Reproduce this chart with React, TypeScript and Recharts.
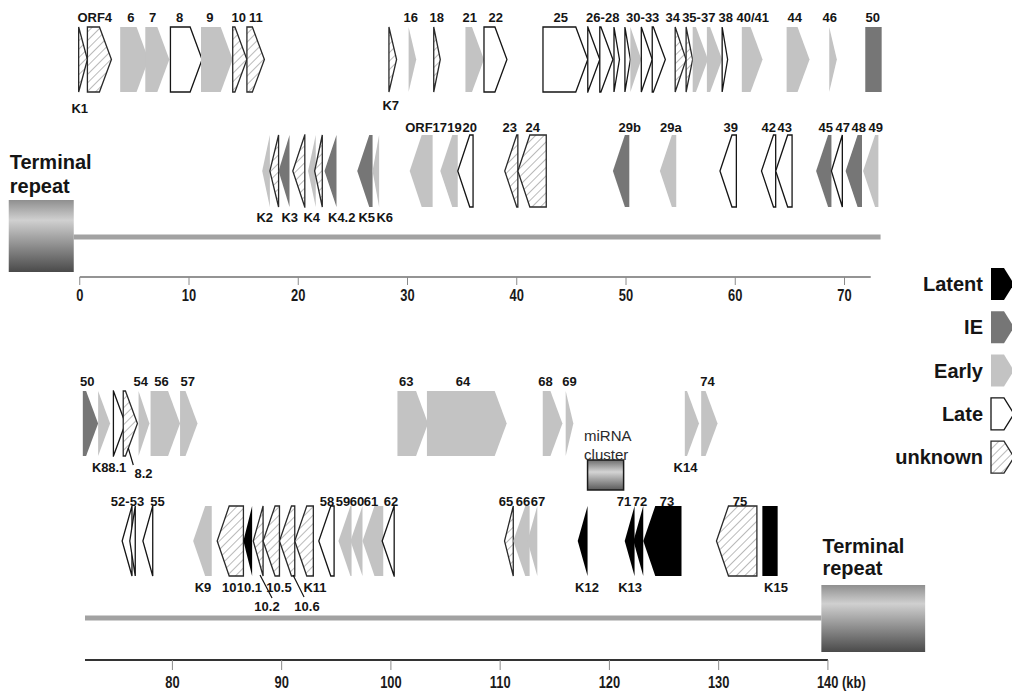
import React from 'react';
import { ComposedChart, XAxis, YAxis, ReferenceArea, ReferenceLine, Scatter, Legend } from 'recharts';

type Cls = 'latent' | 'ie' | 'early' | 'late' | 'unknown';
type Gene = { name: string; start: number; end: number; cls: Cls; dir: 1 | -1 | 0 };
type Lbl = { text: string; kb: number };

// ---------- DATA (kb) ----------
const topForward: Gene[] = [
  { name: 'K1', start: -0.1, end: 0.7, cls: 'unknown', dir: 1 },
  { name: 'ORF4', start: 0.7, end: 2.9, cls: 'unknown', dir: 1 },
  { name: '6', start: 3.7, end: 6.3, cls: 'early', dir: 1 },
  { name: '7', start: 6.0, end: 8.2, cls: 'early', dir: 1 },
  { name: '8', start: 8.3, end: 11.2, cls: 'late', dir: 1 },
  { name: '9', start: 11.1, end: 14.0, cls: 'early', dir: 1 },
  { name: '10', start: 14.0, end: 15.3, cls: 'unknown', dir: 1 },
  { name: '11', start: 15.3, end: 16.9, cls: 'unknown', dir: 1 },
  { name: 'K7', start: 28.3, end: 29.0, cls: 'unknown', dir: 1 },
  { name: '16', start: 30.1, end: 30.8, cls: 'early', dir: 1 },
  { name: '18', start: 32.4, end: 33.0, cls: 'unknown', dir: 1 },
  { name: '21', start: 35.3, end: 37.0, cls: 'early', dir: 1 },
  { name: '22', start: 37.0, end: 39.1, cls: 'late', dir: 1 },
  { name: '25', start: 42.4, end: 46.5, cls: 'late', dir: 1 },
  { name: '26', start: 46.5, end: 47.6, cls: 'late', dir: 1 },
  { name: '27', start: 47.6, end: 48.8, cls: 'late', dir: 1 },
  { name: '28', start: 48.9, end: 49.4, cls: 'late', dir: 1 },
  { name: '30', start: 49.9, end: 50.4, cls: 'late', dir: 1 },
  { name: '31', start: 50.4, end: 51.4, cls: 'early', dir: 1 },
  { name: '32', start: 51.4, end: 52.4, cls: 'late', dir: 1 },
  { name: '33', start: 52.4, end: 53.6, cls: 'late', dir: 1 },
  { name: '34', start: 54.5, end: 55.5, cls: 'unknown', dir: 1 },
  { name: '35', start: 55.5, end: 56.1, cls: 'unknown', dir: 1 },
  { name: '36', start: 56.1, end: 57.5, cls: 'early', dir: 1 },
  { name: '37', start: 57.4, end: 58.8, cls: 'early', dir: 1 },
  { name: '38', start: 58.8, end: 59.3, cls: 'late', dir: 1 },
  { name: '40/41', start: 60.6, end: 62.5, cls: 'early', dir: 1 },
  { name: '44', start: 64.7, end: 66.8, cls: 'early', dir: 1 },
  { name: '46', start: 68.6, end: 69.3, cls: 'early', dir: 1 },
  { name: '50', start: 71.9, end: 73.4, cls: 'ie', dir: 0 },
];

const topReverse: Gene[] = [
  { name: 'K2a', start: 16.7, end: 17.4, cls: 'early', dir: -1 },
  { name: 'K2', start: 17.4, end: 18.2, cls: 'unknown', dir: -1 },
  { name: 'K2b', start: 18.2, end: 19.2, cls: 'ie', dir: -1 },
  { name: 'K3', start: 19.5, end: 20.6, cls: 'unknown', dir: -1 },
  { name: 'K3a', start: 20.9, end: 21.6, cls: 'early', dir: -1 },
  { name: 'K4', start: 21.5, end: 22.2, cls: 'unknown', dir: -1 },
  { name: 'K4.2', start: 22.4, end: 23.5, cls: 'ie', dir: -1 },
  { name: 'K5', start: 25.4, end: 26.8, cls: 'ie', dir: -1 },
  { name: 'K6', start: 26.8, end: 27.4, cls: 'early', dir: -1 },
  { name: 'ORF17', start: 30.2, end: 32.3, cls: 'early', dir: -1 },
  { name: '19', start: 33.0, end: 34.6, cls: 'early', dir: -1 },
  { name: '20', start: 34.6, end: 36.0, cls: 'late', dir: -1 },
  { name: '23', start: 38.9, end: 40.1, cls: 'unknown', dir: -1 },
  { name: '24', start: 40.1, end: 42.7, cls: 'unknown', dir: -1 },
  { name: '29b', start: 48.8, end: 50.3, cls: 'ie', dir: -1 },
  { name: '29a', start: 53.1, end: 54.6, cls: 'early', dir: -1 },
  { name: '39', start: 58.6, end: 60.1, cls: 'late', dir: -1 },
  { name: '42', start: 62.4, end: 63.7, cls: 'late', dir: -1 },
  { name: '43', start: 63.7, end: 65.2, cls: 'late', dir: -1 },
  { name: '45', start: 67.4, end: 68.8, cls: 'ie', dir: -1 },
  { name: '47', start: 68.8, end: 69.8, cls: 'late', dir: -1 },
  { name: '48', start: 70.1, end: 71.6, cls: 'ie', dir: -1 },
  { name: '49', start: 71.7, end: 73.1, cls: 'early', dir: -1 },
];

const bottomForward: Gene[] = [
  { name: '50', start: 71.8, end: 73.2, cls: 'ie', dir: 1 },
  { name: '51', start: 73.2, end: 74.3, cls: 'early', dir: 1 },
  { name: 'K8', start: 74.6, end: 75.7, cls: 'late', dir: 1 },
  { name: '8.1', start: 75.5, end: 76.8, cls: 'unknown', dir: 1 },
  { name: '54', start: 76.9, end: 77.9, cls: 'early', dir: 1 },
  { name: '56', start: 78.0, end: 80.7, cls: 'early', dir: 1 },
  { name: '57', start: 80.7, end: 82.3, cls: 'early', dir: 1 },
  { name: '63', start: 100.6, end: 103.4, cls: 'early', dir: 1 },
  { name: '64', start: 103.3, end: 110.6, cls: 'early', dir: 1 },
  { name: '68', start: 113.9, end: 115.7, cls: 'early', dir: 1 },
  { name: '69', start: 116.0, end: 116.7, cls: 'early', dir: 1 },
  { name: 'K14', start: 126.9, end: 128.2, cls: 'early', dir: 1 },
  { name: '74', start: 128.4, end: 129.9, cls: 'early', dir: 1 },
];

const bottomReverse: Gene[] = [
  { name: '52', start: 75.4, end: 76.3, cls: 'late', dir: -1 },
  { name: '53', start: 76.1, end: 76.6, cls: 'late', dir: -1 },
  { name: '55', start: 77.3, end: 78.2, cls: 'late', dir: -1 },
  { name: 'K9', start: 81.9, end: 83.6, cls: 'early', dir: -1 },
  { name: '10', start: 84.1, end: 86.5, cls: 'unknown', dir: -1 },
  { name: '10.1', start: 86.5, end: 87.3, cls: 'latent', dir: -1 },
  { name: '10.2', start: 87.4, end: 88.3, cls: 'unknown', dir: -1 },
  { name: '10.5', start: 88.3, end: 89.8, cls: 'unknown', dir: -1 },
  { name: '10.6', start: 89.8, end: 91.2, cls: 'unknown', dir: -1 },
  { name: 'K11', start: 91.2, end: 92.9, cls: 'unknown', dir: -1 },
  { name: '58', start: 93.4, end: 94.8, cls: 'late', dir: -1 },
  { name: '59', start: 95.2, end: 96.4, cls: 'early', dir: -1 },
  { name: '60', start: 96.3, end: 97.4, cls: 'early', dir: -1 },
  { name: '61', start: 97.4, end: 99.3, cls: 'early', dir: -1 },
  { name: '62', start: 99.2, end: 100.3, cls: 'late', dir: -1 },
  { name: '65', start: 110.4, end: 111.2, cls: 'unknown', dir: -1 },
  { name: '66', start: 111.2, end: 112.7, cls: 'early', dir: -1 },
  { name: '67', start: 112.5, end: 113.4, cls: 'early', dir: -1 },
  { name: 'K12', start: 117.1, end: 118.0, cls: 'latent', dir: -1 },
  { name: '71', start: 121.4, end: 122.3, cls: 'latent', dir: -1 },
  { name: '72', start: 122.2, end: 123.1, cls: 'latent', dir: -1 },
  { name: '73', start: 123.1, end: 126.6, cls: 'latent', dir: -1 },
  { name: '75', start: 129.8, end: 133.5, cls: 'unknown', dir: -1 },
  { name: 'K15', start: 134.0, end: 135.4, cls: 'latent', dir: 0 },
];

const topRow1Labels: Lbl[] = [
  { text: 'ORF4', kb: 1.37 }, { text: '6', kb: 4.67 }, { text: '7', kb: 6.68 }, { text: '8', kb: 9.15 },
  { text: '9', kb: 11.9 }, { text: '10', kb: 14.55 }, { text: '11', kb: 16.11 }, { text: '16', kb: 30.3 },
  { text: '18', kb: 32.68 }, { text: '21', kb: 35.7 }, { text: '22', kb: 38.08 }, { text: '25', kb: 44.03 },
  { text: '26-28', kb: 47.87 }, { text: '30-33', kb: 51.53 }, { text: '34', kb: 54.28 }, { text: '35-37', kb: 56.66 },
  { text: '38', kb: 59.13 }, { text: '40/41', kb: 61.6 }, { text: '44', kb: 65.45 }, { text: '46', kb: 68.65 },
  { text: '50', kb: 72.59 },
];
const topRow1Below: Lbl[] = [{ text: 'K1', kb: 0.0 }];
const topRow1BelowK7: Lbl[] = [{ text: 'K7', kb: 28.47 }];
const topRow2Labels: Lbl[] = [
  { text: 'ORF17', kb: 31.7 }, { text: '19', kb: 34.3 }, { text: '20', kb: 35.7 }, { text: '23', kb: 39.36 },
  { text: '24', kb: 41.46 }, { text: '29b', kb: 50.34 }, { text: '29a', kb: 54.1 }, { text: '39', kb: 59.59 },
  { text: '42', kb: 63.07 }, { text: '43', kb: 64.53 }, { text: '45', kb: 68.28 }, { text: '47', kb: 69.84 },
  { text: '48', kb: 71.3 }, { text: '49', kb: 72.86 },
];
const topRow2Below: Lbl[] = [
  { text: 'K2', kb: 16.93 }, { text: 'K3', kb: 19.22 }, { text: 'K4', kb: 21.24 }, { text: 'K4.2', kb: 23.98 },
  { text: 'K5', kb: 26.27 }, { text: 'K6', kb: 27.92 },
];
const bottomRow3Labels: Lbl[] = [
  { text: '50', kb: 72.2 }, { text: '54', kb: 77.1 }, { text: '56', kb: 79.0 }, { text: '57', kb: 81.4 },
  { text: '63', kb: 101.4 }, { text: '64', kb: 106.6 }, { text: '68', kb: 114.15 }, { text: '69', kb: 116.35 },
  { text: '74', kb: 128.98 },
];
const bottomRow3Below: Lbl[] = [{ text: 'K8', kb: 73.4 }, { text: '8.1', kb: 74.95 }, { text: 'K14', kb: 126.96 }];
const bottomRow3Below2: Lbl[] = [{ text: '8.2', kb: 77.35 }];
const bottomRow4Labels: Lbl[] = [
  { text: '52-53', kb: 75.89 }, { text: '55', kb: 78.64 }, { text: '58', kb: 94.15 }, { text: '59', kb: 95.62 },
  { text: '60', kb: 96.9 }, { text: '61', kb: 98.18 }, { text: '62', kb: 100.0 }, { text: '65', kb: 110.54 },
  { text: '66', kb: 112.09 }, { text: '67', kb: 113.46 }, { text: '71', kb: 121.34 }, { text: '72', kb: 122.8 },
  { text: '73', kb: 125.27 }, { text: '75', kb: 131.95 },
];
const bottomRow4Below: Lbl[] = [
  { text: 'K9', kb: 82.8 }, { text: '10', kb: 85.2 }, { text: '10.1', kb: 87.05 }, { text: '10.5', kb: 89.76 },
  { text: 'K11', kb: 93.05 }, { text: 'K12', kb: 117.95 }, { text: 'K13', kb: 121.89 }, { text: 'K15', kb: 135.25 },
];
const bottomRow4Below2: Lbl[] = [{ text: '10.2', kb: 88.66 }, { text: '10.6', kb: 92.32 }];
const topRepeatText: Lbl[] = [{ text: 'Terminal', kb: -6.41 }, { text: 'repeat', kb: -6.41 }];
const bottomRepeatText: Lbl[] = [{ text: 'Terminal', kb: 139.5 }, { text: 'repeat', kb: 139.5 }];
const miRNAText: Lbl[] = [{ text: 'miRNA', kb: 117.68 }, { text: 'cluster', kb: 117.68 }];

const topTicks = [0, 10, 20, 30, 40, 50, 60, 70];
const bottomTicks = [80, 90, 100, 110, 120, 130, 140];
const topAxisSpan = { start: 0, end: 72.4 };
const bottomAxisSpan = { start: 72, end: 140 };
// visible window of each panel (kb at the left and right page edges)
const topWindow: [number, number] = [-7.3, 85.33];
const bottomWindow: [number, number] = [64.22, 156.85];

const topRepeat = { start: -6.5, end: -0.55 };
const bottomRepeat = { start: 139.4, end: 148.9 };
const miRNA = { start: 118.0, end: 121.3 };
const topGenome = { start: -0.55, end: 73.3 };
const bottomGenome = { start: 72, end: 139.4 };
const leaders = [
  { from: 75.96, to: 76.42 },
  { from: 88.02, to: 89.12 },
  { from: 91.04, to: 92.05 },
];

const legendItems: { label: string; cls: Cls }[] = [
  { label: 'Latent', cls: 'latent' },
  { label: 'IE', cls: 'ie' },
  { label: 'Early', cls: 'early' },
  { label: 'Late', cls: 'late' },
  { label: 'unknown', cls: 'unknown' },
];

// ---------- LAYOUT / STYLE ----------
const SANS = "'Liberation Sans', Arial, Helvetica, sans-serif";
const TIP = 12;
const Y = {
  t1: [27, 92], t2: [135, 207], b3: [391, 456], b4: [506, 576],
  t1Lbl: 17, t1Below: 108, k7Below: 105, t2Lbl: 127, t2Below: 217,
  topRepeat: [200, 272], topGenome: 237, topRepeatText: [162, 186], topAxis: 277,
  b3Lbl: 381, b3Below: 467, b3Below2: 473, b4Lbl: 501, b4Below: 587, b4Below2: 606,
  bottomRepeat: [585, 652], bottomGenome: 618, bottomRepeatText: [546, 568], bottomAxis: 660,
  miRNA: [460, 490], miRNAText: [435, 454],
  leaders: [[448, 465], [575, 598], [575, 597]],
};
const CLASS_STYLE: Record<Cls, { fill: string; stroke: string }> = {
  latent: { fill: '#000000', stroke: 'none' },
  ie: { fill: '#767676', stroke: 'none' },
  early: { fill: '#c3c3c3', stroke: 'none' },
  late: { fill: '#ffffff', stroke: '#151515' },
  unknown: { fill: 'url(#hatch)', stroke: '#2a2a2a' },
};
const LABEL_STYLE = { fontFamily: SANS, fontSize: 13, fontWeight: 700, fill: '#151515' };
const TR_TEXT = { fontFamily: SANS, fontSize: 20, fontWeight: 700, fill: '#151515' };
const MIR_TEXT = { fontFamily: SANS, fontSize: 15, fontWeight: 400, fill: '#2a2a2a' };

const Defs = () => (
  <defs>
    <pattern id="hatch" patternUnits="userSpaceOnUse" width={6} height={6} patternTransform="rotate(45)">
      <rect width={6} height={6} fill="#ffffff" />
      <line x1={0} y1={0} x2={0} y2={6} stroke="#a8a8a8" strokeWidth={1.6} />
    </pattern>
    <linearGradient id="trGrad" x1="0" y1="0" x2="0" y2="1">
      <stop offset="0%" stopColor="#8f8f8f" />
      <stop offset="28%" stopColor="#d0d0d0" />
      <stop offset="100%" stopColor="#4a4a4a" />
    </linearGradient>
    <linearGradient id="mirGrad" x1="0" y1="0" x2="0" y2="1">
      <stop offset="0%" stopColor="#6e6e6e" />
      <stop offset="40%" stopColor="#d4d4d4" />
      <stop offset="100%" stopColor="#5a5a5a" />
    </linearGradient>
  </defs>
);

const arrowPoints = (x: number, y: number, w: number, h: number, dir: number, tip: number) => {
  const t = dir === 0 ? 0 : Math.min(w, tip);
  const pts =
    dir >= 0
      ? [[x, y], [x + w - t, y], [x + w, y + h / 2], [x + w - t, y + h], [x, y + h]]
      : [[x + w, y], [x + t, y], [x, y + h / 2], [x + t, y + h], [x + w, y + h]];
  return pts.map((p) => p.join(',')).join(' ');
};

const geneShape = (g: Gene) => (p: any) => {
  const s = CLASS_STYLE[g.cls];
  return (
    <polygon
      points={arrowPoints(p.x, p.y, p.width, p.height, g.dir, TIP)}
      fill={s.fill}
      stroke={s.stroke}
      strokeWidth={s.stroke === 'none' ? 0 : 1.3}
    />
  );
};

const boxShape = (fill: string, stroke: string, withDefs: boolean) => (p: any) => (
  <g>
    {withDefs && <Defs />}
    <rect x={p.x} y={p.y} width={p.width} height={p.height} fill={fill} stroke={stroke} strokeWidth={stroke === 'none' ? 0 : 1.5} />
  </g>
);

const geneAreas = (genes: Gene[], yr: number[], key: string) =>
  genes.map((g, i) => (
    <ReferenceArea key={key + i} x1={g.start} x2={g.end} y1={yr[0]} y2={yr[1]} ifOverflow="visible" shape={geneShape(g)} />
  ));

const textShape = (style: any, anchor: string = 'middle') => (p: any) => (
  <text x={p.cx} y={p.cy} textAnchor={anchor} dominantBaseline="central" {...style}>
    {p.payload.text}
  </text>
);

const toPts = (arr: Lbl[], ys: number | number[]) =>
  arr.map((l, i) => ({ x: l.kb, y: Array.isArray(ys) ? ys[i] : ys, text: l.text }));

const labelSeries = (arr: Lbl[], ys: number | number[], style: any, key: string, anchor: string = 'middle') => (
  <Scatter key={key} data={toPts(arr, ys)} shape={textShape(style, anchor)} isAnimationActive={false} legendType="none" />
);

const TICK_STYLE = { fontFamily: SANS, fontSize: 17, fontWeight: 700, fill: '#1a1a1a' };
const TopTick = (props: any) => (
  <text transform={`translate(${props.x},${props.y}) scale(0.76,1)`} x={0} y={0} dy="0.71em" textAnchor="middle" {...TICK_STYLE}>
    {props.payload.value}
  </text>
);
const BottomTick = (props: any) => {
  const v = props.payload.value;
  if (v === 140) {
    return (
      <text transform={`translate(${props.x - 11},${props.y}) scale(0.76,1)`} x={0} y={0} dy="0.71em" textAnchor="start" {...TICK_STYLE}>
        140 (kb)
      </text>
    );
  }
  return (
    <text transform={`translate(${props.x},${props.y}) scale(0.76,1)`} x={0} y={0} dy="0.71em" textAnchor="middle" {...TICK_STYLE}>
      {v}
    </text>
  );
};

const LegendIcon = ({ cls, cy }: { cls: Cls; cy: number }) => {
  const s = CLASS_STYLE[cls];
  return (
    <polygon
      points={arrowPoints(119, cy - 16, 23, 32, 1, 10)}
      fill={cls === 'unknown' ? 'url(#hatchL)' : s.fill}
      stroke={s.stroke}
      strokeWidth={s.stroke === 'none' ? 0 : 1.3}
    />
  );
};

const LegendContent = () => (
  <svg width={140} height={220} style={{ display: 'block' }}>
    <defs>
      <pattern id="hatchL" patternUnits="userSpaceOnUse" width={6} height={6} patternTransform="rotate(45)">
        <rect width={6} height={6} fill="#ffffff" />
        <line x1={0} y1={0} x2={0} y2={6} stroke="#a8a8a8" strokeWidth={1.6} />
      </pattern>
    </defs>
    {legendItems.map((it, i) => {
      const cy = 22 + i * 43.3;
      return (
        <g key={it.label}>
          <text x={111} y={cy} textAnchor="end" dominantBaseline="central" fontFamily={SANS} fontSize={20} fontWeight={700} fill="#151515">
            {it.label}
          </text>
          <LegendIcon cls={it.cls} cy={cy} />
        </g>
      );
    })}
  </svg>
);

const TopPanel = () => (
  <ComposedChart width={1012} height={310} margin={{ top: 0, right: 0, bottom: 0, left: 0 }}>
    <XAxis
      type="number"
      dataKey="x"
      domain={topWindow}
      ticks={topTicks}
      interval={0}
      height={33}
      tickSize={8}
      tickMargin={4}
      axisLine={false}
      tickLine={{ stroke: '#8a8a8a', strokeWidth: 1 }}
      tick={<TopTick />}
    />
    <YAxis type="number" dataKey="y" domain={[0, 277]} reversed hide />
    <ReferenceLine segment={[{ x: topAxisSpan.start, y: Y.topAxis }, { x: topAxisSpan.end, y: Y.topAxis }]} stroke="#707070" strokeWidth={1.3} ifOverflow="visible" />
    <ReferenceArea x1={topRepeat.start} x2={topRepeat.end} y1={Y.topRepeat[0]} y2={Y.topRepeat[1]} ifOverflow="visible" shape={boxShape('url(#trGrad)', 'none', true)} />
    <ReferenceLine segment={[{ x: topGenome.start, y: Y.topGenome }, { x: topGenome.end, y: Y.topGenome }]} stroke="#a2a2a2" strokeWidth={5} ifOverflow="visible" />
    {geneAreas(topForward, Y.t1, 'tf')}
    {geneAreas(topReverse, Y.t2, 'tr')}
    {labelSeries(topRow1Labels, Y.t1Lbl, LABEL_STYLE, 'l1')}
    {labelSeries(topRow1Below, Y.t1Below, LABEL_STYLE, 'l1b')}
    {labelSeries(topRow1BelowK7, Y.k7Below, LABEL_STYLE, 'l1k')}
    {labelSeries(topRow2Labels, Y.t2Lbl, LABEL_STYLE, 'l2')}
    {labelSeries(topRow2Below, Y.t2Below, LABEL_STYLE, 'l2b')}
    {labelSeries(topRepeatText, Y.topRepeatText, TR_TEXT, 'trt', 'start')}
    <Legend
      layout="vertical"
      align="center"
      verticalAlign="middle"
      content={<LegendContent />}
      wrapperStyle={{ left: 872, top: 262, width: 140, height: 220 }}
    />
  </ComposedChart>
);

const BottomPanel = () => (
  <ComposedChart width={1012} height={384} margin={{ top: 0, right: 0, bottom: 0, left: 0 }}>
    <XAxis
      type="number"
      dataKey="x"
      domain={bottomWindow}
      ticks={bottomTicks}
      interval={0}
      height={34}
      tickSize={10}
      tickMargin={6}
      axisLine={false}
      tickLine={{ stroke: '#8a8a8a', strokeWidth: 1 }}
      tick={<BottomTick />}
    />
    <YAxis type="number" dataKey="y" domain={[310, 660]} reversed hide />
    <ReferenceLine segment={[{ x: bottomAxisSpan.start, y: Y.bottomAxis }, { x: bottomAxisSpan.end, y: Y.bottomAxis }]} stroke="#333333" strokeWidth={2} ifOverflow="visible" />
    <ReferenceArea x1={bottomRepeat.start} x2={bottomRepeat.end} y1={Y.bottomRepeat[0]} y2={Y.bottomRepeat[1]} ifOverflow="visible" shape={boxShape('url(#trGrad)', 'none', true)} />
    <ReferenceLine segment={[{ x: bottomGenome.start, y: Y.bottomGenome }, { x: bottomGenome.end, y: Y.bottomGenome }]} stroke="#a2a2a2" strokeWidth={5} ifOverflow="visible" />
    <ReferenceArea x1={miRNA.start} x2={miRNA.end} y1={Y.miRNA[0]} y2={Y.miRNA[1]} ifOverflow="visible" shape={boxShape('url(#mirGrad)', '#1a1a1a', false)} />
    {geneAreas(bottomForward, Y.b3, 'bf')}
    {geneAreas(bottomReverse, Y.b4, 'br')}
    {leaders.map((l, i) => (
      <ReferenceLine
        key={'ld' + i}
        segment={[{ x: l.from, y: Y.leaders[i][0] }, { x: l.to, y: Y.leaders[i][1] }]}
        stroke="#111"
        strokeWidth={1.2}
        ifOverflow="visible"
      />
    ))}
    {labelSeries(bottomRow3Labels, Y.b3Lbl, LABEL_STYLE, 'l3')}
    {labelSeries(bottomRow3Below, Y.b3Below, LABEL_STYLE, 'l3b')}
    {labelSeries(bottomRow3Below2, Y.b3Below2, LABEL_STYLE, 'l3c')}
    {labelSeries(bottomRow4Labels, Y.b4Lbl, LABEL_STYLE, 'l4')}
    {labelSeries(bottomRow4Below, Y.b4Below, LABEL_STYLE, 'l4b')}
    {labelSeries(bottomRow4Below2, Y.b4Below2, LABEL_STYLE, 'l4c')}
    {labelSeries(miRNAText, Y.miRNAText, MIR_TEXT, 'mir', 'start')}
    {labelSeries(bottomRepeatText, Y.bottomRepeatText, TR_TEXT, 'brt', 'start')}
  </ComposedChart>
);

export default function App() {
  return (
    <div style={{ position: 'absolute', left: 0, top: 0, width: 1012, height: 694, background: '#ffffff', overflow: 'hidden' }}>
      <div style={{ position: 'absolute', left: 0, top: 0 }}>
        <TopPanel />
      </div>
      <div style={{ position: 'absolute', left: 0, top: 310 }}>
        <BottomPanel />
      </div>
    </div>
  );
}
